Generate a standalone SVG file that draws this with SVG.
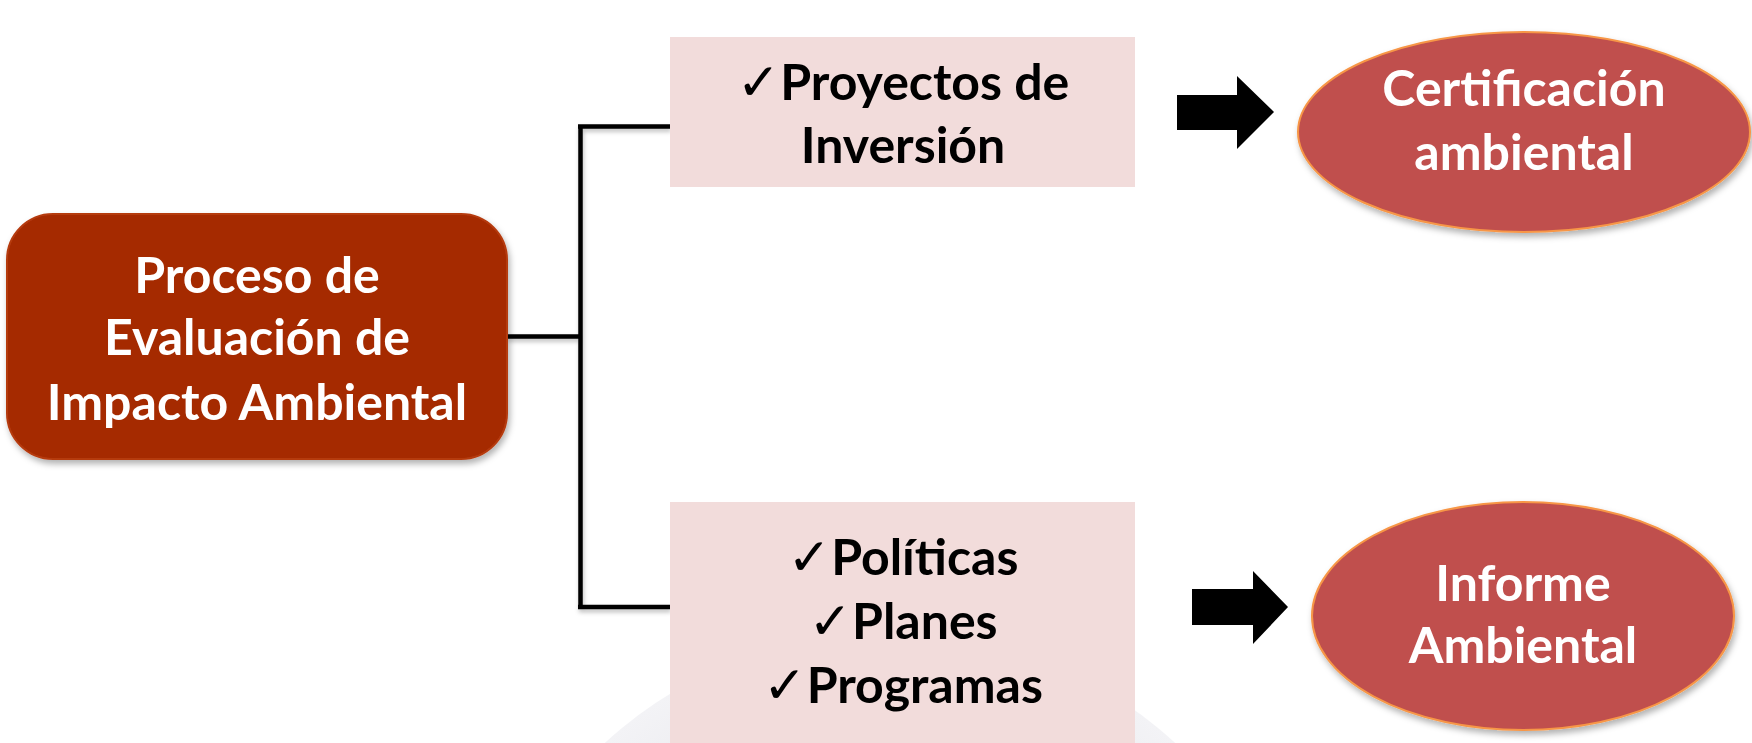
<svg xmlns="http://www.w3.org/2000/svg" width="1752" height="743" viewBox="0 0 1752 743">
  <defs>
    <filter id="sh" x="-10%" y="-10%" width="130%" height="140%">
      <feDropShadow dx="2" dy="4" stdDeviation="3" flood-color="#000" flood-opacity="0.3"/>
    </filter>
    <filter id="lsh" x="-5%" y="-5%" width="115%" height="120%">
      <feDropShadow dx="1" dy="3" stdDeviation="2" flood-color="#000" flood-opacity="0.25"/>
    </filter>
    <radialGradient id="wm" cx="0.5" cy="0.5" r="0.5">
      <stop offset="0.8" stop-color="#ececf0"/>
      <stop offset="1" stop-color="#f3f3f6"/>
    </radialGradient>
  </defs>
  <style>
    .t { font-family: Lato, "Liberation Sans", sans-serif; font-weight: bold; font-size: 50px; text-anchor: middle; }
    .w { fill: #ffffff; }
    .k { fill: #000000; }
    .ck { font-family: "DejaVu Sans", sans-serif; font-weight: normal; font-size: 52px; }
    .box { fill: #F2DCDB; }
    .ell { fill: #C0504D; stroke: #F79646; stroke-width: 2; }
    .con { fill: none; stroke: #000; stroke-width: 4.5; }
    .arr { fill: #000; }
  </style>
  <rect width="1752" height="743" fill="#ffffff"/>
  <circle cx="890" cy="1054" r="422" fill="url(#wm)"/>

  <g id="connectors" filter="url(#lsh)">
    <path class="con" d="M507 336.5 H580.5 M580.5 126.5 V607 M578 126.5 H670 M578 607 H670"/>
  </g>

  <g id="main">
    <rect x="7" y="214" width="500" height="245" rx="46" ry="46" fill="#A52A00" stroke="#B53A10" stroke-width="2" filter="url(#sh)"/>
    <text class="t w" x="257" y="293">Proceso de</text>
    <text class="t w" x="257" y="355">Evaluación de</text>
    <text class="t w" x="257" y="420">Impacto Ambiental</text>
  </g>

  <g id="proyectos">
    <rect class="box" x="670" y="37" width="465" height="150"/>
    <text class="t k" x="903" y="100"><tspan class="ck">✓</tspan>Proyectos de</text>
    <text class="t k" x="903" y="163">Inversión</text>
  </g>

  <g id="politicas">
    <rect class="box" x="670" y="502" width="465" height="241"/>
    <text class="t k" x="903" y="575"><tspan class="ck">✓</tspan>Políticas</text>
    <text class="t k" x="903" y="639"><tspan class="ck">✓</tspan>Planes</text>
    <text class="t k" x="903" y="703"><tspan class="ck">✓</tspan>Programas</text>
  </g>

  <g id="arrow1">
    <polygon class="arr" points="1177,95 1237,95 1237,76 1274,112 1237,149 1237,130 1177,130"/>
  </g>
  <g id="arrow2">
    <polygon class="arr" points="1192,589 1253,589 1253,571 1288,607 1253,644 1253,625 1192,625"/>
  </g>

  <g id="certificacion">
    <ellipse class="ell" cx="1524" cy="132" rx="226" ry="100" filter="url(#sh)"/>
    <text class="t w" x="1524" y="106">Certificación</text>
    <text class="t w" x="1524" y="170">ambiental</text>
  </g>

  <g id="informe">
    <ellipse class="ell" cx="1523" cy="616" rx="211" ry="114" filter="url(#sh)"/>
    <text class="t w" x="1523" y="601">Informe</text>
    <text class="t w" x="1523" y="663">Ambiental</text>
  </g>
</svg>
